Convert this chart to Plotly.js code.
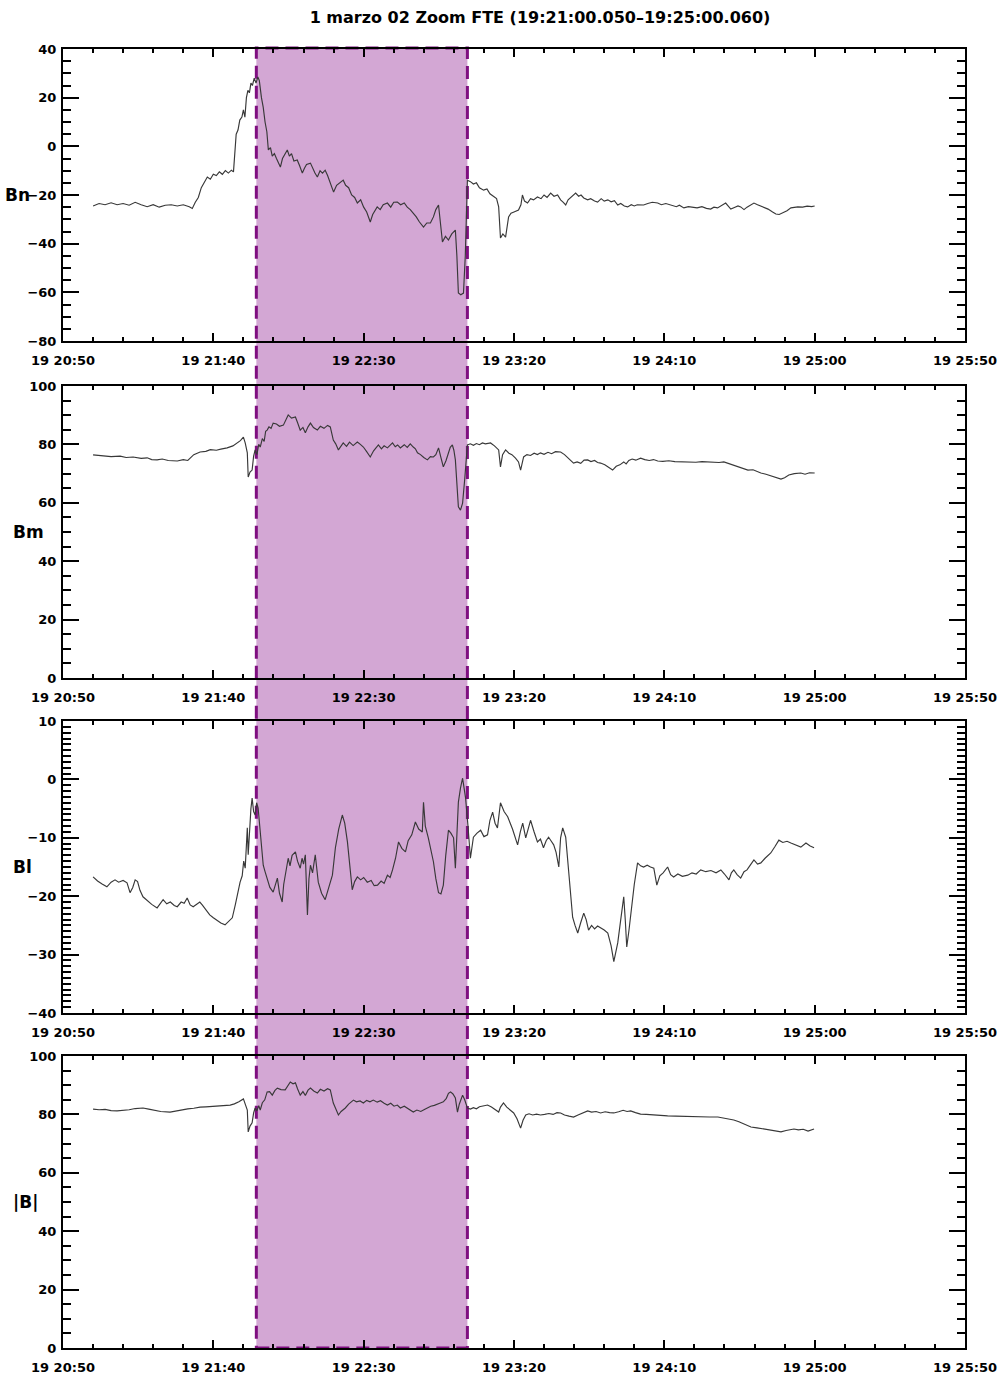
<!DOCTYPE html>
<html>
<head>
<meta charset="utf-8">
<script src="https://cdn.plot.ly/plotly-3.0.1.min.js"></script>
<style>
  html, body { margin: 0; padding: 0; background: #fff; }
  #chart { width: 1002px; height: 1378px; }
</style>
</head>
<body>
<div id="chart"></div>
<script>
// Magnetic field components in LMN coordinates, 1 March 2002, FTE interval.
// Each sample: [seconds after 19:20:50, value in nT]
const BN = [
  [10,-24.5],[12,-23.5],[14,-24],[16,-23.2],[18,-24],[20,-23.5],[22,-24.2],[24,-23],[26,-24],[28,-24.8],
  [30,-24],[32,-25],[34,-24.2],[36,-24],[38,-24.5],[40,-24],[42,-24.8],[43,-25.5],[44,-23],[45,-21],
  [46,-17],[47,-15],[48,-12.6],[49,-13.5],[50,-11.5],[51,-12],[52,-10.5],[53,-11.5],[54,-10],[55,-11],
  [56,-9.8],[56.7,-10.5],[57.2,-2],[57.6,5],[58.2,6.7],[58.8,10.8],[59.5,12],[60,15],[60.5,12],[61,20],
  [61.5,23],[62,22],[62.5,26],[63,25],[63.6,28],[64.2,26],[64.8,28.5],[65.3,27],[66,20],[66.6,16],
  [67.2,10],[67.8,6],[68.3,-1.5],[69,-0.5],[69.6,-4],[70.3,-3],[71,-5],[71.6,-7],[72.3,-8.5],[73,-5],
  [73.8,-3],[74.6,-1.5],[75.3,-4],[76,-3],[76.8,-6],[77.9,-5.6],[78.7,-8],[79.6,-11],[80.3,-9],[81,-7.5],
  [82.3,-6.9],[83,-9],[83.8,-11],[84.6,-12.6],[85.5,-10],[86.3,-11],[87.2,-9.8],[88,-12],[89,-15],[90,-18.8],
  [91,-16],[92,-15],[93.2,-13.9],[94,-16],[95,-17],[96,-20],[97,-21],[97.9,-23.3],[99,-22],[100,-25],
  [101,-27],[102.2,-31.1],[103,-28],[104.5,-24.9],[105.5,-26],[106.5,-24],[107.9,-23.3],[109,-25],[110,-23],[111.2,-22.9],
  [112.3,-24],[113.5,-23.3],[114.5,-25],[115.5,-26],[116.5,-27.4],[117.5,-29],[118.5,-31],[119.9,-33.2],[121,-31.5],[122.2,-31.5],
  [123.2,-29],[124,-26],[124.9,-24.1],[125.5,-32],[126.2,-39.3],[127.2,-37],[128.2,-38.5],[129.3,-36],[130.5,-34.4],[131,-45],
  [131.5,-60.3],[132.3,-61],[133.2,-60.3],[133.8,-45],[134.5,-13.9],[135.5,-14.5],[136.5,-15.5],[137.5,-15],[138.5,-17],[139.9,-18],
  [141,-17.5],[142,-19.5],[143.2,-20.8],[144.2,-21.5],[144.9,-24.9],[145.5,-37.7],[146.3,-36],[147.2,-37.3],[148.2,-29],[149,-27.5],
  [150,-27],[151.5,-26.2],[152.3,-24],[152.8,-20],[153.5,-22.5],[154.5,-23.3],[155.5,-21.5],[156.5,-22],[157.8,-20.8],[159,-21.5],
  [160,-20],[161,-21],[162.2,-19.2],[163.3,-20.5],[164.5,-20],[165.5,-22],[166.4,-23],[167.2,-24.1],[168,-22],[169,-21],
  [170.5,-19.2],[171.5,-20.5],[172.3,-20],[173.2,-21.2],[174.5,-22],[175.5,-21.5],[176.8,-22.5],[177.8,-22.9],[179,-21.5],[180,-22.5],
  [181.2,-22],[182.3,-22.8],[183.4,-22.3],[184.5,-24.1],[185.5,-23.5],[186.7,-24.5],[187.8,-24.9],[189,-24],[190,-24.5],[191,-24],
  [193.1,-24.1],[194.5,-23.5],[196,-23],[197.8,-23.3],[199,-24],[200.5,-23.5],[202.2,-24.1],[204,-24.8],[205,-24.2],[206.5,-25.3],
  [208,-24.8],[209.5,-25.2],[210.9,-25.3],[212.5,-24.8],[214,-25.5],[215.4,-25.8],[216.5,-25],[217.7,-25.3],[219,-24.5],[220.4,-23.3],
  [221.2,-24.5],[222.1,-25.8],[223.5,-25],[224.5,-24.5],[225.4,-24.9],[226.5,-26],[227.5,-25],[228.7,-24],[229.8,-23.3],[231,-24],
  [232,-24.5],[233.1,-24.9],[234.5,-25.8],[236,-27],[237.1,-27.8],[238.2,-28],[239.4,-27.4],[240.8,-26.5],[242.1,-25.3],[243.3,-25],
  [244.4,-24.9],[246,-25],[247.5,-24.6],[249,-24.8],[250,-24.5]
];

const BM = [
  [10,76.4],[13,76.2],[16,75.8],[19,76],[21,75.5],[23.3,75.7],[26,75.2],[28,75.4],[29.5,74.8],[31.3,74.7],
  [33,75],[35,74.5],[38,74.3],[40,74.8],[41.5,74.5],[42.3,75.3],[43.5,76.5],[45.6,77.4],[47.5,77.6],[49,78.2],
  [51,78],[52.5,78.4],[54.6,78.8],[56.5,79.5],[58,80.5],[59,81.3],[60,82.5],[60.6,80.5],[61.3,77.1],[61.6,68.8],
  [62.2,70.5],[62.9,71.2],[63.4,76],[63.9,78.1],[64.5,76.5],[65.1,80],[65.6,79.1],[66.3,82],[66.9,81],[67.4,84.5],
  [67.9,84.9],[68.5,86],[69.2,85.5],[69.9,87.3],[71,87],[72,86.2],[73.3,86.6],[74,88],[74.9,90.1],[76,89],
  [77.3,89.4],[78,87.5],[78.9,84.9],[79.8,85.8],[80.6,84],[81.5,86],[82.3,87.3],[83.3,85.8],[84.6,84.9],[85.6,86.2],
  [86.8,85.5],[88,86.5],[88.9,86],[89.9,81.5],[90.7,80.2],[91.6,78.1],[92.5,79.5],[93.2,80.5],[94.3,79.3],[95.3,80.8],
  [96.5,79.6],[97.9,80.8],[98.9,80],[99.9,79.1],[101,77.5],[102.2,75.7],[103.3,77.8],[104.9,79.8],[105.9,78.5],[106.8,79.5],
  [107.9,78.8],[108.8,79.8],[109.6,80.5],[110.5,79.2],[111.3,79.8],[112.2,78.8],[113.5,79.9],[114.5,79],[115.5,80.2],[116.5,79.1],
  [117.2,78.5],[117.9,77.1],[118.9,76.5],[120,75.5],[121.2,74.7],[122.2,75.8],[123.2,75.7],[124,76.5],[124.9,78.8],[125.7,75.5],
  [126.5,72.3],[127.4,74.5],[128.2,77.4],[128.8,79],[129.5,79.8],[130,78],[130.5,74.7],[131,66],[131.5,58.6],[132.2,57.5],
  [132.9,59.9],[133.6,68],[134.5,79.8],[135.5,80.2],[136.5,79.7],[137.5,80.3],[138.5,79.9],[139.5,80.5],[140.5,80.2],[142.2,80.5],
  [143.5,79.5],[144.9,78.1],[145.5,72.3],[146.2,76.5],[147.2,78.1],[148.3,77],[149.3,76.5],[150.5,75.3],[151.5,74],[152.2,71.2],
  [153.2,75.7],[154.3,76.5],[155.5,76.2],[156.7,77],[157.8,76.5],[158.8,77.1],[160,76.6],[161.3,77.3],[162.5,76.8],[163.8,77.5],
  [165.5,77.4],[166.8,76.5],[168.2,75],[169.8,73.6],[171,74],[172.2,73.5],[173.3,74.6],[174.5,74.7],[175.6,74.1],[176.8,74.5],
  [177.8,73.8],[178.8,73.6],[180.2,73],[181.5,72.2],[182.8,71.2],[184,72.5],[185.2,73],[186.5,74],[187.3,73.3],[188.2,74.5],
  [189.3,75],[190.5,74.6],[192.1,75.3],[193.5,74.8],[195,74.5],[196.4,74.8],[197.8,74.3],[199.5,74.2],[201.5,74.4],[203.5,74.1],
  [205.5,74],[208,74.1],[210.5,73.9],[212.5,74.1],[214.4,74],[216.5,74.1],[218.2,73.8],[219.8,74],[221.3,73.5],[223.1,72.9],
  [224.5,72.4],[226,71.8],[227.8,71.2],[229.5,71.3],[231,70.6],[232.1,70.2],[233.8,69.8],[235.4,69.2],[236.9,68.9],[238.8,68.1],
  [240,68.6],[241.4,69.5],[243.2,70],[245.4,70.2],[246.8,69.8],[248.3,70.3],[250,70.2]
];

const BL = [
  [10,-16.7],[11.5,-17.4],[13,-17.9],[14.6,-18.4],[16,-17.6],[17.3,-17.2],[18.5,-17.6],[20,-17.3],[21.3,-17.7],[22.3,-19.4],
  [23.2,-18.5],[24,-17.2],[24.8,-17.5],[25.6,-19],[26.6,-20.1],[28,-20.8],[29.5,-21.4],[31.3,-22],[32.3,-21.2],[33.3,-20.6],
  [34.5,-21.3],[35.7,-21],[37,-21.6],[38,-21.8],[39.3,-21],[40.3,-21.2],[41.3,-20.3],[42.3,-21.5],[43.3,-21.8],[44.5,-21.3],
  [45.5,-21],[46.3,-21.5],[47.5,-22.3],[48.8,-23.2],[50,-23.7],[51.3,-24.2],[52.5,-24.6],[53.9,-24.9],[55,-24.3],[56.3,-23.7],
  [57.3,-21.5],[58.1,-19.5],[58.9,-17.6],[59.6,-16.5],[60.1,-14],[60.6,-15.2],[61,-10],[61.3,-8.3],[61.6,-12.9],[62,-9],
  [62.5,-5],[62.9,-3.2],[63.4,-5.5],[63.9,-6.1],[64.4,-4],[64.9,-4.9],[65.4,-8],[66,-11.5],[66.6,-14.7],[67.2,-15.8],
  [67.9,-16.9],[68.8,-18.5],[69.9,-19.3],[70.6,-18],[71.3,-16.9],[72,-19.5],[72.9,-21],[73.4,-18],[73.9,-16.4],[74.4,-14.5],
  [74.9,-13.5],[75.5,-14.8],[76.2,-13],[77.3,-12.4],[78,-14],[78.9,-15.2],[79.5,-13.5],[80,-14.5],[80.6,-12.9],[81.3,-23.2],
  [81.8,-17],[82.3,-14.7],[83,-16],[83.9,-12.9],[84.4,-15],[84.9,-17.6],[86,-19.5],[87.2,-20.6],[88.4,-18.5],[89.6,-16.4],
  [90.6,-11.7],[91.7,-8.5],[92.9,-6.1],[93.7,-7.5],[94.6,-10.7],[95.3,-14],[96.2,-18.9],[97,-17.5],[97.9,-16.7],[99,-17.2],
  [100,-16.8],[101.2,-17.6],[102.5,-17.3],[103.5,-18.2],[104.6,-18.1],[105.8,-17.4],[106.8,-17.8],[107.9,-16.4],[108.8,-16.8],[109.6,-15.5],
  [110.6,-13.5],[111.6,-10.7],[112.7,-11.8],[113.9,-12.4],[114.8,-10.5],[116,-9.5],[117.2,-7.3],[118.3,-8.5],[119.5,-9],[119.9,-3.9],
  [120.5,-8],[121.5,-10],[122.3,-12],[123.2,-14.1],[124,-17],[124.9,-19.4],[125.7,-19.6],[126.5,-18.1],[127.3,-13],[128.2,-8.7],
  [129,-9.2],[129.9,-10],[130.5,-15.2],[131,-9],[131.5,-3.9],[132.2,-1.5],[132.9,0.2],[133.4,-1.5],[133.9,-3.2],[134.7,-8],
  [135.5,-13.5],[136.5,-9.9],[137.7,-9.2],[138.9,-8.7],[140,-9.8],[141.2,-9.5],[142,-7],[142.9,-5.6],[143.7,-7.5],[144.5,-8.3],
  [145.5,-4],[146.7,-5.5],[147.9,-6.4],[149.5,-8.5],[151.2,-11.2],[152.1,-9],[152.9,-7.5],[153.9,-10],[154.7,-8.3],[155.5,-7],
  [156.7,-9],[157.8,-10.7],[158.8,-10.2],[159.8,-11.7],[160.7,-10.5],[161.5,-9.9],[162.3,-10.5],[163.2,-11.2],[164,-12.5],[164.9,-15],
  [165.5,-10],[166.2,-8.3],[167.2,-9.9],[168.3,-16],[169.5,-23.6],[170.3,-25],[171.2,-26.3],[172.2,-24.5],[173.2,-22.9],[174,-24],
  [174.8,-25.8],[175.8,-25],[176.8,-25.6],[177.8,-25.1],[178.8,-25.4],[180,-25.8],[181.2,-26.3],[182.3,-28.5],[183.2,-31.2],[183.8,-29.5],
  [184.5,-28],[185.5,-24],[186.5,-20.1],[187,-24],[187.5,-28.7],[188.2,-26],[188.8,-22.9],[190,-18],[191.1,-14.3],[192.1,-14.8],
  [193.1,-15],[194.3,-14.7],[195.4,-15],[196.5,-15.2],[197.5,-18.1],[198.5,-16.5],[199.6,-16],[200.4,-15.5],[201.1,-15],[202.1,-16.3],
  [203.1,-16.7],[204.5,-16.2],[206,-16.6],[207.8,-16.4],[209.2,-16],[210.6,-16.2],[212.1,-15.5],[213.8,-15.8],[215.5,-15.6],[217.2,-16],
  [218.8,-15.5],[220,-16.2],[221.5,-17.2],[222.3,-16],[223.1,-15.5],[224.2,-16.3],[225.4,-16.9],[226.5,-15.8],[227.5,-15.5],[228.7,-14.6],
  [229.8,-13.8],[231,-14.5],[232.1,-14.3],[233.5,-13.5],[235.4,-12.6],[236.8,-11.5],[238.1,-10.4],[239.4,-10.8],[240.8,-10.6],[242.1,-10.9],
  [243.8,-11.2],[245.4,-11.6],[247.1,-10.9],[248.5,-11.4],[249.8,-11.7]
];

const BT = [
  [10,81.8],[12,81.6],[14,81.7],[16,81.3],[18,81.2],[20,81.3],[22,81.6],[24,82],[26.6,82.2],[28.5,81.8],
  [30.5,81.3],[32.5,81],[35.6,80.8],[37.5,81.2],[39.5,81.4],[41.5,81.9],[43.5,82.1],[45.6,82.5],[47.5,82.6],[49.5,82.8],
  [51.5,82.9],[53.5,83.1],[55.6,83.2],[57,83.6],[58.5,84.3],[60,85.3],[60.6,83.5],[61.3,81.5],[61.6,74],[62.2,76],
  [62.9,77.1],[63.4,80.5],[63.9,82.2],[64.5,81.2],[65.1,83],[65.6,81.5],[66.3,84],[67.1,85],[67.9,87.7],[68.7,87.8],
  [69.6,86.6],[70.5,88.2],[71.3,89],[72.5,88.5],[73.9,88.4],[74.8,90],[75.6,91.1],[76.5,90.5],[77.3,90.8],[78,88.8],
  [78.9,86.6],[79.8,87.8],[80.6,86.5],[81.5,88.3],[82.3,89],[83.4,88],[84.6,87.3],[85.6,88.6],[86.8,88],[88,88.8],
  [88.9,88.4],[89.9,83.9],[90.8,81.5],[91.6,79.8],[92.5,81],[93.9,82.2],[95,83.5],[96.6,84.9],[97.6,84.3],[98.8,84.6],
  [99.9,83.9],[101,84.8],[102.1,84.3],[103.2,84.9],[104.5,84.2],[105.6,84.7],[106.8,83.8],[107.9,83.2],[109,83.8],[110.1,82.8],
  [111.2,83.2],[112.2,82.2],[113.5,82.8],[114.8,81.8],[116.5,80.8],[117.7,81.5],[119,81],[120.2,81.7],[121.2,82.2],[122.3,82.8],
  [123.5,83.1],[124.5,83.6],[125.5,83.9],[126.5,84.3],[127.5,85.5],[128.2,87.2],[128.9,87.7],[129.7,87],[130.5,85.6],[131.2,80.8],
  [131.8,83.5],[132.9,86.6],[133.6,85],[134.5,82.2],[135.5,81.8],[136.5,82.3],[137.5,81.9],[138.5,82.6],[139.8,82.8],[141.2,83.2],
  [142.5,82.5],[143.8,81.6],[144.9,80.8],[145.5,82.5],[146.5,83.9],[147.6,82.5],[148.8,81.5],[149.9,80.5],[151,78.5],[152.2,75.3],
  [153,78],[153.9,79.8],[155,80.2],[156.2,79.8],[157.5,80.1],[158.8,79.8],[160.2,80],[161.6,80.3],[163,80],[164.3,80.6],
  [165.5,80.5],[166.8,79.8],[168.3,79.4],[169.8,79.1],[171.3,79.8],[172.8,80.5],[174.5,81.2],[175.8,80.8],[177.3,81],[178.8,80.5],
  [180.3,80.9],[181.8,80.6],[183.2,80.5],[184.8,80.9],[186.3,81.4],[187.6,81],[188.8,81.2],[190.4,80.6],[192.1,80.1],[194,80],
  [196,79.8],[198.5,79.7],[201.1,79.5],[203.8,79.4],[206.7,79.3],[209.8,79.1],[212.5,79.2],[215,79.1],[217.8,79.1],[219.5,78.8],
  [221.4,78.5],[223.1,78.1],[224.8,77.5],[226.8,76.6],[228.8,75.7],[230.8,75.4],[233.1,75],[234.8,74.8],[236.8,74.5],[238.8,74],
  [240.5,74.5],[242,74.8],[243.1,75],[244.6,74.7],[246.2,74.9],[247.8,74.3],[249,74.8],[249.8,75]
];

// Panel labels and the y ranges they use
const panelNames = ['Bn', 'Bm', 'Bl', '|B|'];
const panelRanges = [[-80, 40], [0, 100], [-40, 10], [0, 100]];
const panelMajor = [20, 20, 10, 20];
const panelMinor = [5, 5, 1, 5];

// FTE interval (seconds after 19:20:50)
const fteStart = 64.3;
const fteEnd = 134.5;

const titleText = '1 marzo 02 Zoom FTE (19:21:00.050\u201319:25:00.060)';

// Time axis origin: 19:20:50 UTC, window of 300 s
const t0 = Date.UTC(2002, 2, 1, 19, 20, 50);
const windowSec = 300;
const toTime = s => t0 + s * 1000;

const series = [BN, BM, BL, BT];

const W = 1002, H = 1378;
const mL = 63, mR = 37, mT = 49, mB = 30;
const plotH = H - mT - mB;
// panel frames in pixels (top, bottom)
const framesPx = [[49, 341], [386, 678], [721, 1013], [1056, 1348]];
const domainOf = f => [(H - mB - f[1]) / plotH, (H - mB - f[0]) / plotH];
// left offset of each panel label from the plot edge (px)
const labelShift = [-60, -52, -52, -52];

const tickFont = { family: 'DejaVu Sans', size: 13, weight: 'bold', color: '#000' };

const traces = series.map((s, i) => ({
  type: 'scatter',
  mode: 'lines',
  x: s.map(p => toTime(p[0])),
  y: s.map(p => p[1]),
  xaxis: i === 0 ? 'x' : 'x' + (i + 1),
  yaxis: i === 0 ? 'y' : 'y' + (i + 1),
  line: { color: '#383838', width: 1.15 },
  hoverinfo: 'skip',
  showlegend: false
}));

const layout = {
  width: W, height: H,
  margin: { l: mL, r: mR, t: mT, b: mB },
  paper_bgcolor: '#ffffff',
  plot_bgcolor: 'rgba(0,0,0,0)',
  showlegend: false,
  title: {
    text: titleText,
    font: { family: 'DejaVu Sans', size: 16, weight: 'bold', color: '#000' },
    xref: 'container', x: 540 / W, xanchor: 'center',
    yref: 'container', y: 1 - 17 / H, yanchor: 'middle'
  },
  shapes: [{
    type: 'rect', layer: 'below',
    xref: 'x', yref: 'paper',
    x0: toTime(fteStart), x1: toTime(fteEnd),
    y0: 0, y1: 1 + 1 / plotH,
    fillcolor: '#d3a7d4',
    line: { color: '#7f0f80', width: 3, dash: '13px,7px' }
  }],
  annotations: []
};

panelNames.forEach((name, i) => {
  const sfx = i === 0 ? '' : String(i + 1);
  const dom = domainOf(framesPx[i]);
  layout['xaxis' + sfx] = {
    type: 'date',
    domain: [0, 1],
    anchor: 'y' + sfx,
    matches: i === 0 ? undefined : 'x',
    range: [toTime(0), toTime(windowSec)],
    tick0: toTime(0), dtick: 50000,
    tickformat: '%H %M:%S',
    ticks: 'inside', ticklen: 8, tickwidth: 2, tickcolor: '#000',
    minor: { dtick: 10000, tick0: toTime(0), ticks: 'inside', ticklen: 4, tickwidth: 2, tickcolor: '#000', showgrid: false },
    showline: true, linewidth: 2, linecolor: '#000', mirror: 'ticks',
    showgrid: false, zeroline: false,
    tickfont: tickFont,
    ticklabelstandoff: 6,
    fixedrange: true
  };
  layout['yaxis' + sfx] = {
    domain: dom,
    anchor: 'x' + sfx,
    range: panelRanges[i],
    tick0: 0, dtick: panelMajor[i],
    ticks: 'inside', ticklen: 16, tickwidth: 2, tickcolor: '#000',
    minor: { dtick: panelMinor[i], tick0: 0, ticks: 'inside', ticklen: 8, tickwidth: 2, tickcolor: '#000', showgrid: false },
    showline: true, linewidth: 2, linecolor: '#000', mirror: 'ticks',
    showgrid: false, zeroline: false,
    tickfont: tickFont,
    ticklabelstandoff: 2,
    fixedrange: true
  };
  layout.annotations.push({
    text: name,
    xref: 'paper', yref: 'paper',
    x: 0, xshift: labelShift[i], xanchor: 'left',
    y: (dom[0] + dom[1]) / 2, yanchor: 'middle',
    showarrow: false,
    font: { family: 'DejaVu Sans', size: 17, weight: 'bold', color: '#000' }
  });
});

Plotly.newPlot('chart', traces, layout, { displayModeBar: false, staticPlot: true });
</script>
</body>
</html>
